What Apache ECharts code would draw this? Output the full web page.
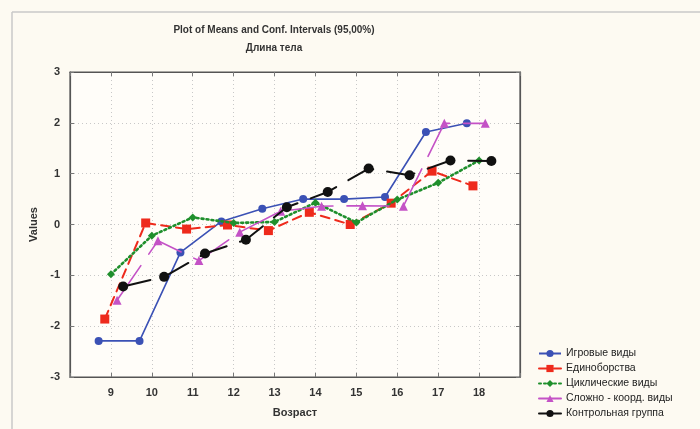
<!DOCTYPE html>
<html>
<head>
<meta charset="utf-8">
<script src="https://cdn.jsdelivr.net/npm/echarts@6/dist/echarts.min.js"></script>
<style>
  html, body { margin: 0; padding: 0; background: #fdfaf2; }
  #chart { width: 700px; height: 429px; }
</style>
</head>
<body>
<div id="chart"></div>
<script>
// Age groups (years)
const ages = [9, 10, 11, 12, 13, 14, 15, 16, 17, 18];

// Group means of body length (standardised values)
const igrovye       = [-2.29, -2.29, -0.55, 0.06, 0.31, 0.50, 0.50, 0.54, 1.82, 1.99];
const edinoborstva  = [-1.86, 0.03, -0.09, -0.01, -0.12, 0.24, 0.00, 0.42, 1.05, 0.76];
const tsiklicheskie = [-0.98, -0.22, 0.14, 0.03, 0.05, 0.43, 0.04, 0.49, 0.82, 1.26];
const slozhnoKoord  = [-1.49, -0.32, -0.71, -0.15, 0.26, 0.36, 0.37, 0.36, 1.99, 1.99];
const kontrolnaya   = [-1.22, -1.03, -0.57, -0.30, 0.34, 0.64, 1.10, 0.97, 1.26, 1.25];

const seriesNames = ['Игровые виды', 'Единоборства', 'Циклические виды', 'Сложно - коорд. виды', 'Контрольная группа'];
const seriesValues = [igrovye, edinoborstva, tsiklicheskie, slozhnoKoord, kontrolnaya];

const yTicks = [-3, -2, -1, 0, 1, 2, 3];

// Per-group horizontal shift so the groups do not overlap at each age
const styles = [
  { shift: -0.30, color: '#3b51b5', line: 'solid', width: 1.6, symbol: 'circle', size: 8 },
  { shift: -0.15, color: '#ee2a1c', line: [9, 6], width: 2, symbol: 'rect', size: 9 },
  { shift: 0.00, color: '#1f8f2c', line: [2, 3], width: 2.6, symbol: 'diamond', size: 8 },
  { shift: 0.15, color: '#c452c6', line: [42, 14], width: 1.6, symbol: 'triangle', size: 9 },
  { shift: 0.30, color: '#111111', line: [28, 14], width: 2, symbol: 'circle', size: 10 }
];

const FONT = '"Liberation Sans", Arial, sans-serif';
const TXT = '#333333';

const series = seriesNames.map((name, i) => {
  const st = styles[i];
  return {
    name: name,
    type: 'line',
    data: ages.map((a, k) => [a + st.shift, seriesValues[i][k]]),
    symbol: st.symbol,
    symbolSize: st.size,
    showAllSymbol: true,
    itemStyle: { color: st.color },
    lineStyle: { color: st.color, width: st.width, type: st.line, cap: st.line === 'solid' ? 'butt' : 'round' },
    emphasis: { disabled: true },
    animation: false,
    z: 3 + i
  };
});

const chart = echarts.init(document.getElementById('chart'), null, { renderer: 'canvas' });

const axisLine = { show: true, onZero: false, lineStyle: { color: '#555555', width: 1.2 } };
const gridLine = { show: true, lineStyle: { color: '#c8c8c8', type: [1, 3], width: 1 } };
const tick = { show: true, inside: true, length: 4, lineStyle: { color: '#777' } };

chart.setOption({
  backgroundColor: '#fdfaf2',
  animation: false,
  grid: { left: 70, right: 180, top: 72, bottom: 52, show: true, backgroundColor: '#fffdf9', borderColor: '#555555', borderWidth: 1.2 },
  graphic: [
    { type: 'line', shape: { x1: 12, y1: 12, x2: 700, y2: 12 }, style: { stroke: '#c8c8c8', lineWidth: 1.5 }, silent: true },
    { type: 'line', shape: { x1: 12, y1: 12, x2: 12, y2: 429 }, style: { stroke: '#c8c8c8', lineWidth: 1.5 }, silent: true },
    { type: 'text', x: 274, y: 25, style: { text: 'Plot of Means and Conf. Intervals (95,00%)', fill: TXT, font: 'bold 10px ' + FONT, textAlign: 'center' } },
    { type: 'text', x: 274, y: 43, style: { text: 'Длина тела', fill: TXT, font: 'bold 10px ' + FONT, textAlign: 'center' } }
  ],
  xAxis: [
    {
      type: 'value', min: 8, max: 19, interval: 1, position: 'bottom',
      name: 'Возраст', nameLocation: 'middle', nameGap: 30,
      nameTextStyle: { color: TXT, fontFamily: FONT, fontWeight: 'bold', fontSize: 11 },
      axisLine: axisLine,
      axisTick: tick,
      axisLabel: {
        color: TXT, fontFamily: FONT, fontWeight: 'bold', fontSize: 11, margin: 10,
        formatter: v => (ages.indexOf(v) >= 0 ? String(v) : '')
      },
      splitLine: gridLine
    },
    {
      type: 'value', min: 8, max: 19, interval: 1, position: 'top',
      axisLine: axisLine, axisTick: tick,
      axisLabel: { show: false }, splitLine: { show: false }
    }
  ],
  yAxis: [
    {
      type: 'value', min: yTicks[0], max: yTicks[yTicks.length - 1], interval: 1, position: 'left',
      name: 'Values', nameLocation: 'middle', nameGap: 30,
      nameTextStyle: { color: TXT, fontFamily: FONT, fontWeight: 'bold', fontSize: 11 },
      axisLine: axisLine, axisTick: tick,
      axisLabel: { color: TXT, fontFamily: FONT, fontWeight: 'bold', fontSize: 11, margin: 10 },
      splitLine: gridLine
    },
    {
      type: 'value', min: yTicks[0], max: yTicks[yTicks.length - 1], interval: 1, position: 'right',
      axisLine: axisLine, axisTick: tick,
      axisLabel: { show: false }, splitLine: { show: false }
    }
  ],
  legend: {
    orient: 'vertical', left: 533, top: 343, itemGap: 4,
    itemWidth: 22, itemHeight: 9,
    textStyle: { color: '#222', fontFamily: FONT, fontSize: 10.5 },
    data: seriesNames
  },
  series: series
});
</script>
</body>
</html>
